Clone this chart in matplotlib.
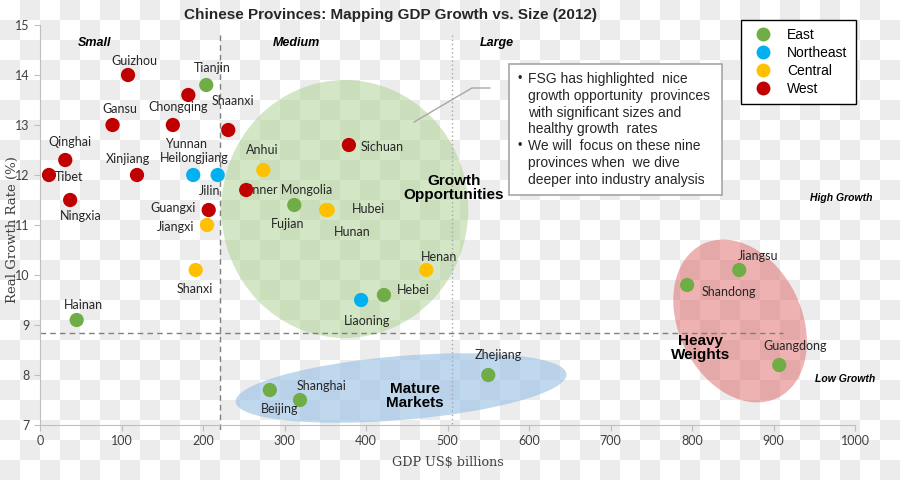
import numpy as np
import matplotlib
matplotlib.use("Agg")
import matplotlib.pyplot as plt
from matplotlib.patches import Ellipse, Rectangle
from matplotlib.lines import Line2D
from matplotlib.transforms import ScaledTranslation

# data (GDP in US$ bn, real growth %)
provinces = [
    "Guizhou", "Tianjin", "Chongqing", "Gansu", "Yunnan", "Shaanxi",
    "Qinghai", "Tibet", "Xinjiang", "Ningxia", "Heilongjiang", "Jilin",
    "Guangxi", "Jiangxi", "Shanxi", "Hainan", "Anhui", "Inner Mongolia",
    "Fujian", "Hubei", "Hunan", "Sichuan", "Henan", "Hebei", "Liaoning",
    "Beijing", "Shanghai", "Zhejiang", "Shandong", "Jiangsu", "Guangdong",
]
gdp = [
    108, 204, 182, 89, 163, 231,
    31, 11, 119, 37, 188, 218,
    207, 205, 191, 45, 274, 253,
    312, 353, 351, 379, 474, 422, 394,
    282, 319, 550, 794, 858, 907,
]
growth = [
    14.0, 13.8, 13.6, 13.0, 13.0, 12.9,
    12.3, 12.0, 12.0, 11.5, 12.0, 12.0,
    11.3, 11.0, 10.1, 9.1, 12.1, 11.7,
    11.4, 11.3, 11.3, 12.6, 10.1, 9.6, 9.5,
    7.7, 7.5, 8.0, 9.8, 10.1, 8.2,
]
region = [
    "West", "East", "West", "West", "West", "West",
    "West", "West", "West", "West", "Northeast", "Northeast",
    "West", "Central", "Central", "East", "Central", "West",
    "East", "Central", "Central", "West", "Central", "East", "Northeast",
    "East", "East", "East", "East", "East", "East",
]
regions = ["East", "Northeast", "Central", "West"]
region_colors = {"East": "#70ad47", "Northeast": "#00b0f0",
                 "Central": "#ffc000", "West": "#c00000"}

x_ticks = list(range(0, 1001, 100))
y_ticks = list(range(7, 16))

# label offsets in pixels (dx, dy, ha)
label_pos = {
    "Guizhou": (6, 14, "center"), "Tianjin": (6, 17, "center"),
    "Chongqing": (-10, -12, "center"), "Gansu": (7, 16, "center"),
    "Yunnan": (13, -19, "center"), "Shaanxi": (5, 29, "center"),
    "Qinghai": (5, 18, "center"), "Tibet": (6, -2, "left"),
    "Xinjiang": (-9, 16, "center"), "Ningxia": (11, -16, "center"),
    "Heilongjiang": (1, 17, "center"), "Jilin": (-8, -16, "center"),
    "Guangxi": (-13, 2, "right"), "Jiangxi": (-13, -2, "right"),
    "Shanxi": (-1, -19, "center"), "Hainan": (7, 15, "center"),
    "Anhui": (-1, 20, "center"), "Inner Mongolia": (3, 0, "left"),
    "Fujian": (-7, -19, "center"), "Hubei": (24, 1, "left"),
    "Hunan": (26, -22, "center"), "Sichuan": (12, -2, "left"),
    "Henan": (13, 13, "center"), "Hebei": (13, 5, "left"),
    "Liaoning": (6, -21, "center"), "Beijing": (10, -19, "center"),
    "Shanghai": (22, 14, "center"), "Zhejiang": (10, 20, "center"),
    "Shandong": (42, -7, "center"), "Jiangsu": (19, 14, "center"),
    "Guangdong": (16, 19, "center"),
}

W, H = 900, 480
fig = plt.figure(figsize=(9, 4.8), dpi=100)

# checkerboard backdrop
bg = fig.add_axes([0, 0, 1, 1], zorder=-10)
rows, cols = np.indices((H // 20, W // 20))
checker = ((rows + cols) % 2).astype(float)
bg.imshow(checker, cmap=matplotlib.colors.ListedColormap(["white", "#ececec"]),
          extent=(0, W, H, 0), interpolation="nearest", aspect="auto")
bg.set_axis_off()

ax = fig.add_axes([40 / W, 1 - 425 / H, 815 / W, 400 / H])
ax.set_facecolor("none")
ax.set_xlim(0, 1000)
ax.set_ylim(7, 15)

for s in ["top", "right"]:
    ax.spines[s].set_visible(False)
for s in ["left", "bottom"]:
    ax.spines[s].set_color("#bfbfbf")
ax.set_xticks(x_ticks)
ax.set_yticks(y_ticks)
ax.tick_params(colors="#bfbfbf", labelcolor="#404040", length=4, labelsize=9)
for t in ax.get_xticklabels() + ax.get_yticklabels():
    t.set_family("Lato")

fig.text(448 / W, 1 - 462 / H, "GDP US$ billions", family="DejaVu Serif",
         fontsize=9.2, color="#404040", ha="center", va="center")
fig.text(12 / W, 1 - 230 / H, "Real Growth Rate (%)", family="DejaVu Serif",
         fontsize=9.5, color="#404040", ha="center", va="center",
         rotation=90)


def blob(cx, cy, w, h, ang, color, alpha):
    tr = fig.dpi_scale_trans + ScaledTranslation(cx, cy, ax.transData)
    e = Ellipse((0, 0), w / 100, h / 100, angle=ang, transform=tr,
                facecolor=color, alpha=alpha, edgecolor="none", zorder=1)
    ax.add_patch(e)


blob(374, 11.32, 247, 258, 0, "#a9d18e", 0.5)
blob(443, 7.74, 332, 64, 4.8, "#9dc3e6", 0.65)
blob(859, 9.08, 123, 171, 26, "#e06666", 0.5)

# guide lines
ax.plot([221, 221], [14.8, 6.84], ls=(0, (4, 3)), color="#7f7f7f", lw=1,
        clip_on=False, zorder=2)
ax.plot([505, 505], [14.8, 7], ls=(0, (1, 2)), color="#a6a6a6", lw=1,
        zorder=2)
ax.plot([0, 912], [8.84, 8.84], ls=(0, (4, 3)), color="#7f7f7f", lw=1,
        zorder=2)

# points
colors = [region_colors[r] for r in region]
ax.scatter(gdp, growth, s=105, c=colors, zorder=4, linewidths=0)

for name, xv, yv in zip(provinces, gdp, growth):
    dx, dy, ha = label_pos[name]
    ax.annotate(name, (xv, yv), xytext=(dx, dy), textcoords="offset pixels",
                ha=ha, va="center", fontsize=9, family="Lato",
                color="#262626", zorder=3)

# segment labels
for txt, xv, yv in [("Small", 67, 14.64), ("Medium", 315, 14.64),
                    ("Large", 560, 14.64)]:
    ax.text(xv, yv, txt, ha="center", va="center", fontsize=9,
            fontweight="bold", style="italic", family="Liberation Sans")
ax.text(983, 11.54, "High Growth", ha="center", va="center", fontsize=7.5,
        fontweight="bold", style="italic", family="Liberation Sans")
ax.text(988, 7.92, "Low Growth", ha="center", va="center", fontsize=7.5,
        fontweight="bold", style="italic", family="Liberation Sans")

for txt, xv, yv in [("Growth\nOpportunities", 508, 11.74),
                    ("Mature\nMarkets", 460, 7.58),
                    ("Heavy\nWeights", 810, 8.54)]:
    ax.text(xv, yv, txt, ha="center", va="center", fontsize=11,
            fontweight="bold", family="Liberation Sans", linespacing=1.05,
            zorder=5)

# callout connector and box
ax.plot([459, 530, 552], [13.06, 13.74, 13.74], color="#a6a6a6", lw=1,
        clip_on=False, zorder=5)
fig.patches.append(Rectangle((509 / W, 1 - 195 / H), 213 / W, 131 / H,
                             transform=fig.transFigure, facecolor="white",
                             edgecolor="#a6a6a6", lw=1.2, zorder=6))
box_lines = [
    ("\u2022", "FSG has highlighted  nice"),
    ("", "growth opportunity  provinces"),
    ("", "with significant sizes and"),
    ("", "healthy growth  rates"),
    ("\u2022", "We will  focus on these nine"),
    ("", "provinces when  we dive"),
    ("", "deeper into industry analysis"),
]
for i, (b, line) in enumerate(box_lines):
    yy = 1 - (79 + i * 16.8) / H
    if b:
        fig.text(520 / W, yy, b, ha="center", va="center", fontsize=9,
                 family="Liberation Sans", color="#262626", zorder=7)
    fig.text(528 / W, yy, line, ha="left", va="center", fontsize=10,
             family="Liberation Sans", color="#262626", zorder=7)

# legend
handles = [Line2D([], [], ls="none", marker="o", markersize=10,
                  markerfacecolor=region_colors[r], markeredgewidth=0,
                  label=r) for r in regions]
leg = ax.legend(handles=handles, loc="upper left",
                bbox_to_anchor=(741 / W, 1 - 20 / H),
                bbox_transform=fig.transFigure, frameon=True, fancybox=False,
                edgecolor="black", framealpha=1,
                prop={"family": "Liberation Sans", "size": 10},
                handletextpad=0.7, labelspacing=0.28, borderpad=0.6,
                handlelength=2.0, borderaxespad=0)
leg.get_frame().set_linewidth(1.0)
leg.set_zorder(8)

fig.text(390 / W, 1 - 15 / H,
         "Chinese Provinces: Mapping GDP Growth vs. Size (2012)",
         ha="center", va="center", fontsize=11, fontweight="bold",
         family="Liberation Sans", color="#262626")

fig.savefig("out.png", dpi=100)
